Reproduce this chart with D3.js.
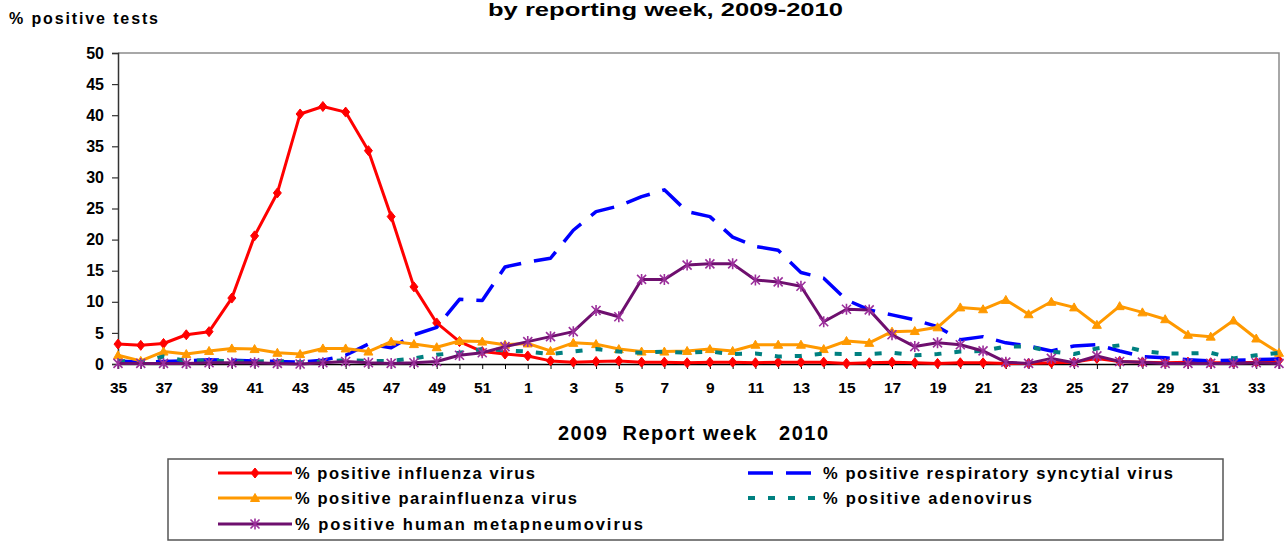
<!DOCTYPE html>
<html>
<head>
<meta charset="utf-8">
<script src="https://cdn.jsdelivr.net/npm/d3@7"></script>
<style>
  body { margin: 0; background: #fff; }
  text { font-family: "Liberation Sans", Arial, sans-serif; font-weight: bold; fill: #000; }
</style>
</head>
<body>
<div id="chart"></div>
<script>
// report weeks, 2009 wk 35 .. 2010 wk 34
var weeks = [35, 36, 37, 38, 39, 40, 41, 42, 43, 44, 45, 46, 47, 48, 49, 50, 51, 52,
  1, 2, 3, 4, 5, 6, 7, 8, 9, 10, 11, 12, 13, 14, 15, 16, 17, 18, 19, 20,
  21, 22, 23, 24, 25, 26, 27, 28, 29, 30, 31, 32, 33, 34];

var influenza = [3.2, 3.0, 3.3, 4.7, 5.2, 10.6, 20.6, 27.5, 40.2, 41.4, 40.5, 34.3, 23.7, 12.4, 6.6, 3.6, 2.0, 1.6,
  1.3, 0.5, 0.3, 0.4, 0.5, 0.3, 0.3, 0.2, 0.3, 0.3, 0.2, 0.3, 0.3, 0.3, 0.1, 0.2, 0.3, 0.2, 0.1, 0.2,
  0.2, 0.1, 0.1, 0.2, 0.3, 0.9, 0.4, 0.3, 0.2, 0.3, 0.2, 0.2, 0.3, 0.6];

var rsv = [0.5, 0.3, 0.4, 0.5, 0.7, 0.6, 0.5, 0.4, 0.3, 0.6, 1.4, 3.2, 2.6, 4.7, 5.9, 10.4, 10.2, 15.6,
  16.4, 17.0, 21.5, 24.5, 25.4, 26.9, 28.0, 24.5, 23.7, 20.4, 18.9, 18.3, 14.7, 13.8, 10.3, 8.7, 7.9, 7.1, 6.0, 3.9,
  4.4, 3.4, 2.9, 2.1, 2.9, 3.1, 2.1, 1.2, 1.0, 0.7, 0.5, 0.6, 0.7, 0.8];

var parainfluenza = [1.4, 0.5, 2.0, 1.6, 2.1, 2.5, 2.4, 1.8, 1.6, 2.5, 2.5, 2.0, 3.6, 3.2, 2.7, 3.7, 3.6, 3.1,
  3.3, 2.1, 3.4, 3.2, 2.4, 2.0, 2.0, 2.1, 2.4, 2.1, 3.1, 3.1, 3.1, 2.4, 3.7, 3.4, 5.2, 5.3, 5.9, 9.1,
  8.8, 10.3, 8.0, 10.0, 9.1, 6.3, 9.3, 8.3, 7.2, 4.7, 4.4, 7.0, 4.1, 1.8];

var adenovirus = [0.5, 0.3, 1.2, 0.5, 0.6, 0.4, 0.4, 0.5, 0.3, 0.4, 0.6, 0.5, 0.5, 0.9, 1.5, 1.8, 2.4, 2.2,
  2.0, 1.6, 2.0, 2.4, 2.0, 1.8, 2.0, 1.8, 2.0, 1.6, 1.7, 1.2, 1.3, 1.7, 1.6, 1.6, 1.8, 1.4, 1.6, 2.0,
  2.1, 2.8, 2.8, 2.0, 1.6, 2.5, 3.0, 2.1, 1.7, 1.7, 1.8, 0.9, 1.4, 1.8];

var metapneumovirus = [0.1, 0.1, 0.1, 0.1, 0.2, 0.2, 0.2, 0.1, 0.0, 0.2, 0.4, 0.2, 0.1, 0.2, 0.4, 1.4, 1.8, 2.8,
  3.6, 4.4, 5.2, 8.6, 7.6, 13.6, 13.6, 15.9, 16.1, 16.1, 13.5, 13.2, 12.5, 6.8, 8.8, 8.7, 4.7, 2.8, 3.4, 3.1,
  2.1, 0.3, 0.1, 0.9, 0.2, 1.3, 0.4, 0.3, 0.1, 0.1, 0.1, 0.1, 0.2, 0.1];

var yTicks = [0, 5, 10, 15, 20, 25, 30, 35, 40, 45, 50];

// marker shapes
var diamond = "M0,-5L4,0L0,5L-4,0Z";
var triangle = "M0,-4.5L4.5,3.5L-4.5,3.5Z";
var asterisk = "M-4.5,-4.5L4.5,4.5M-4.5,4.5L4.5,-4.5M0,-5.5L0,5.5";

// drawing order as in the original (later on top)
var series = [
  {name: "% positive influenza virus", values: influenza, color: "#ff0000", width: 3, marker: diamond, fill: "#ff0000", dash: null, legendCol: 0, legendRow: 0, textLen: 240},
  {name: "% positive respiratory syncytial virus", values: rsv, color: "#0000ff", width: 3.5, marker: null, dash: "25,13", legendCol: 1, legendRow: 0, textLen: 350},
  {name: "% positive parainfluenza virus", values: parainfluenza, color: "#ff9900", width: 3, marker: triangle, fill: "#ff9900", dash: null, legendCol: 0, legendRow: 1, textLen: 282},
  {name: "% positive adenovirus", values: adenovirus, color: "#008080", width: 4, marker: null, dash: "7,13", legendCol: 1, legendRow: 1, textLen: 209},
  {name: "% positive human metapneumovirus", values: metapneumovirus, color: "#6e0f6e", width: 3, marker: asterisk, markerStroke: "#9b2f9b", dash: null, legendCol: 0, legendRow: 2, textLen: 348}
];

var svg = d3.select("#chart").append("svg")
  .attr("width", 1288)
  .attr("height", 542);

var plot = {left: 118, right: 1279, top: 53, bottom: 364};

var xScale = d3.scaleLinear()
  .domain([0, weeks.length - 1])
  .range([plot.left, plot.right]);

var yScale = d3.scaleLinear()
  .domain([0, 50])
  .range([plot.bottom, plot.top]);

// title (its first line is outside the picture in the original)
svg.append("text")
  .attr("x", 488).attr("y", 16)
  .attr("textLength", 355).attr("lengthAdjust", "spacingAndGlyphs")
  .style("font-size", "18px")
  .text("by reporting week, 2009-2010");

svg.append("text")
  .attr("x", 9).attr("y", 24)
  .attr("textLength", 149).attr("lengthAdjust", "spacing")
  .style("font-size", "16px")
  .text("% positive tests");

// plot border (top + right)
svg.append("path")
  .attr("d", "M" + plot.left + "," + plot.top + "H" + plot.right + "V" + plot.bottom)
  .attr("fill", "none")
  .attr("stroke", "#8c8c8c")
  .attr("stroke-width", 1.5);

// y axis
var yAxis = svg.append("g")
  .attr("transform", "translate(" + plot.left + ",0)")
  .call(d3.axisLeft(yScale).tickValues(yTicks).tickSize(6).tickPadding(8));
yAxis.select(".domain").attr("stroke", "#333").attr("stroke-width", 1.5);
yAxis.selectAll(".tick line").attr("stroke", "#333").attr("stroke-width", 1.2);
yAxis.selectAll("text").style("font-size", "16px").style("font-family", "Liberation Sans, Arial, sans-serif").attr("fill", "#000");

// x axis, one tick per week, label every other week
var xAxis = svg.append("g")
  .attr("transform", "translate(0," + plot.bottom + ")")
  .call(d3.axisBottom(xScale)
    .tickValues(d3.range(weeks.length))
    .tickSize(5).tickPadding(13)
    .tickFormat(function(i) { return i % 2 === 0 ? weeks[i] : ""; }));
xAxis.select(".domain").attr("stroke", "#000").attr("stroke-width", 1.5);
xAxis.selectAll(".tick line").attr("stroke", "#000").attr("stroke-width", 1);
xAxis.selectAll("text").style("font-size", "15.5px").style("font-family", "Liberation Sans, Arial, sans-serif").attr("fill", "#000");

svg.append("text")
  .attr("x", 558).attr("y", 440)
  .attr("textLength", 270).attr("lengthAdjust", "spacing")
  .style("font-size", "20px")
  .style("white-space", "pre")
  .attr("xml:space", "preserve")
  .text("2009  Report week   2010");

// lines
var line = d3.line()
  .x(function(d, i) { return xScale(i); })
  .y(function(d) { return yScale(d); });

series.forEach(function(s) {
  var g = svg.append("g");
  g.append("path")
    .datum(s.values)
    .attr("d", line)
    .attr("fill", "none")
    .attr("stroke", s.color)
    .attr("stroke-width", s.width)
    .attr("stroke-dasharray", s.dash)
    .attr("stroke-linejoin", "round");
  if (s.marker) {
    g.selectAll(".m")
      .data(s.values)
      .enter()
      .append("path")
      .attr("d", s.marker)
      .attr("transform", function(d, i) { return "translate(" + xScale(i) + "," + yScale(d) + ")"; })
      .attr("fill", s.fill || "none")
      .attr("stroke", s.markerStroke || s.color)
      .attr("stroke-width", s.markerStroke ? 1.6 : 1);
  }
});

// legend
var legend = svg.append("g");
legend.append("rect")
  .attr("x", 168).attr("y", 459)
  .attr("width", 1055).attr("height", 81)
  .attr("fill", "none")
  .attr("stroke", "#555")
  .attr("stroke-width", 1.5);

var colX = [218, 748], colLen = [74, 71], textX = [295, 823], rowY = [473, 498, 524];

series.forEach(function(s) {
  var x0 = colX[s.legendCol], y0 = rowY[s.legendRow];
  var item = legend.append("g");
  item.append("line")
    .attr("x1", x0).attr("x2", x0 + colLen[s.legendCol])
    .attr("y1", y0).attr("y2", y0)
    .attr("stroke", s.color)
    .attr("stroke-width", s.width)
    .attr("stroke-dasharray", s.dash);
  if (s.marker) {
    item.append("path")
      .attr("d", s.marker)
      .attr("transform", "translate(" + (x0 + colLen[s.legendCol] / 2) + "," + y0 + ")")
      .attr("fill", s.fill || "none")
      .attr("stroke", s.markerStroke || s.color)
      .attr("stroke-width", s.markerStroke ? 1.6 : 1);
  }
  item.append("text")
    .attr("x", textX[s.legendCol]).attr("y", y0 + 5.5)
    .attr("textLength", s.textLen).attr("lengthAdjust", "spacing")
    .style("font-size", "16.5px")
    .text(s.name);
});
</script>
</body>
</html>
